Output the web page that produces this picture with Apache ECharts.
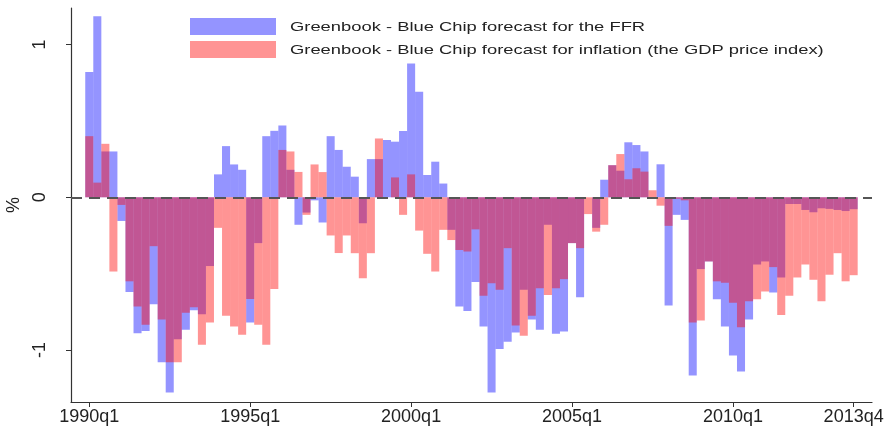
<!DOCTYPE html>
<html>
<head>
<meta charset="utf-8">
<script src="https://cdn.jsdelivr.net/npm/echarts@6/dist/echarts.min.js"></script>
<style>
  html, body { margin: 0; padding: 0; background: #fff; }
  #main { width: 894px; height: 429px; }
</style>
</head>
<body>
<div id="main"></div>
<script>
//Greenbook - Blue Chip, FFR, 1990q1 .. 2013q4 (one value per quarter)
const ffrGap = [
    0.82, 1.185, 0.30, 0.30, -0.155, -0.62, -0.89, -0.875,
    -0.70, -1.08, -1.277, -0.93, -0.867, -0.74, -0.765, -0.45,
    0.15, 0.335, 0.215, 0.18, -0.82, -0.30, 0.40, 0.435,
    0.47, 0.18, -0.18, -0.10, -0.02, -0.165, 0.40, 0.31,
    0.20, 0.135, -0.17, 0.25, 0.25, 0.375, 0.364, 0.434,
    0.876, 0.69, 0.146, 0.233, 0.09, -0.213, -0.715, -0.745,
    -0.555, -0.845, -1.277, -0.993, -0.945, -0.885, -0.606, -0.80,
    -0.867, -0.18, -0.893, -0.878, -0.30, -0.654, 0, -0.20,
    0.115, 0.21, 0.174, 0.36, 0.342, 0.30, 0, 0.216,
    -0.708, -0.115, -0.148, -1.166, -0.47, -0.42, -0.667, -0.845,
    -1.035, -1.14, -0.80, -0.44, -0.42, -0.623, -0.525, -0.044,
    -0.044, -0.083, -0.098, -0.072, -0.076, -0.083, -0.09, -0.078
]

//Greenbook - Blue Chip, inflation (GDP price index)
const inflGap = [
    0.40, 0.096, 0.35, -0.486, -0.05, -0.55, -0.715, -0.835,
    -0.32, -0.80, -1.08, -1.08, -0.755, -0.72, -0.965, -0.82,
    -0.20, -0.775, -0.845, -0.90, -0.665, -0.835, -0.965, -0.60,
    0.31, 0.30, 0.166, -0.115, 0.215, 0.165, -0.25, -0.365,
    -0.25, -0.366, -0.53, -0.366, 0.385, 0, 0.13, -0.115,
    0.15, -0.218, -0.37, -0.486, -0.213, -0.28, -0.345, -0.355,
    -0.21, -0.645, -0.562, -0.606, -0.333, -0.84, -0.906, -0.775,
    -0.595, -0.64, -0.595, -0.536, -0.30, -0.333, -0.11, -0.225,
    -0.18, 0.21, 0.283, 0.118, 0.19, 0.168, 0.046, -0.055,
    -0.187, -0.01, -0.02, -0.82, -0.806, -0.42, -0.55, -0.56,
    -0.69, -0.85, -0.68, -0.667, -0.617, -0.457, -0.77, -0.645,
    -0.525, -0.44, -0.54, -0.68, -0.507, -0.366, -0.55, -0.51
]

//x轴刻度 (quarter index from 1990q1)
const tickIdx = [0, 20, 40, 60, 80, 95]
const tickLabels = ['1990q1', '1995q1', '2000q1', '2005q1', '2010q1', '2013q4']
const yTicks = [-1, 0, 1]

const seriesNames = [
    'Greenbook - Blue Chip forecast for the FFR',
    'Greenbook - Blue Chip forecast for inflation (the GDP price index)'
]

const blueC = 'rgba(0, 0, 255, 0.42)'
const redC = 'rgba(255, 0, 0, 0.42)'
const font = 'Liberation Sans'

function drawChart() {
    var dom = document.getElementById('main');
    var myChart = echarts.init(dom, null, { renderer: 'canvas' });
    var option = {
        animation: false,
        backgroundColor: '#fff',
        grid: { left: 71, right: 22, top: 8, bottom: 27, outerBoundsMode: 'none' },
        xAxis: {
            type: 'value',
            min: -2.27,
            max: 97.28,
            axisLine: { onZero: false, lineStyle: { color: '#333', width: 1.2 } },
            axisTick: { customValues: tickIdx, length: 5, lineStyle: { color: '#333' } },
            axisLabel: {
                customValues: tickIdx,
                formatter: function (v) { return tickLabels[tickIdx.indexOf(Math.round(v))]; },
                fontFamily: font,
                fontSize: 18,
                color: '#222',
                margin: 6
            },
            splitLine: { show: false }
        },
        yAxis: {
            type: 'value',
            min: -1.34,
            max: 1.239,
            name: '%',
            nameLocation: 'middle',
            nameRotate: 90,
            nameGap: 44,
            nameTextStyle: { fontFamily: font, fontSize: 18, color: '#222' },
            axisLine: { show: true, onZero: false, lineStyle: { color: '#333', width: 1.2 } },
            axisTick: { show: true, customValues: yTicks, length: 5, lineStyle: { color: '#333' } },
            axisLabel: {
                customValues: yTicks,
                rotate: 90,
                fontFamily: font,
                fontSize: 18,
                color: '#222',
                margin: 22
            },
            splitLine: { show: false }
        },
        series: [
            {
                name: seriesNames[0],
                type: 'bar',
                barWidth: 8.05,
                barGap: '-100%',
                itemStyle: { color: blueC },
                data: ffrGap.map(function (v, i) { return [i, v]; })
            },
            {
                name: seriesNames[1],
                type: 'bar',
                barWidth: 8.05,
                barGap: '-100%',
                itemStyle: { color: redC },
                data: inflGap.map(function (v, i) { return [i, v]; }),
                markLine: {
                    silent: true,
                    symbol: ['none', 'none'],
                    label: { show: false },
                    lineStyle: { type: [11, 7], color: '#555', width: 1.8 },
                    data: [{ yAxis: 0 }]
                }
            }
        ],
        // legend drawn by hand, Stata text is wide
        graphic: [
            { type: 'rect', shape: { x: 190, y: 18, width: 86, height: 17 }, style: { fill: blueC } },
            { type: 'rect', shape: { x: 190, y: 41, width: 86, height: 17 }, style: { fill: redC } },
            {
                type: 'text', x: 290, y: 27, scaleX: 1.36,
                style: { text: seriesNames[0], fontFamily: font, fontSize: 13.5, fill: '#222', verticalAlign: 'middle' }
            },
            {
                type: 'text', x: 290, y: 50, scaleX: 1.36,
                style: { text: seriesNames[1], fontFamily: font, fontSize: 13.5, fill: '#222', verticalAlign: 'middle' }
            }
        ]
    };
    myChart.setOption(option);
    window.addEventListener('resize', myChart.resize);
}

drawChart();
</script>
</body>
</html>
